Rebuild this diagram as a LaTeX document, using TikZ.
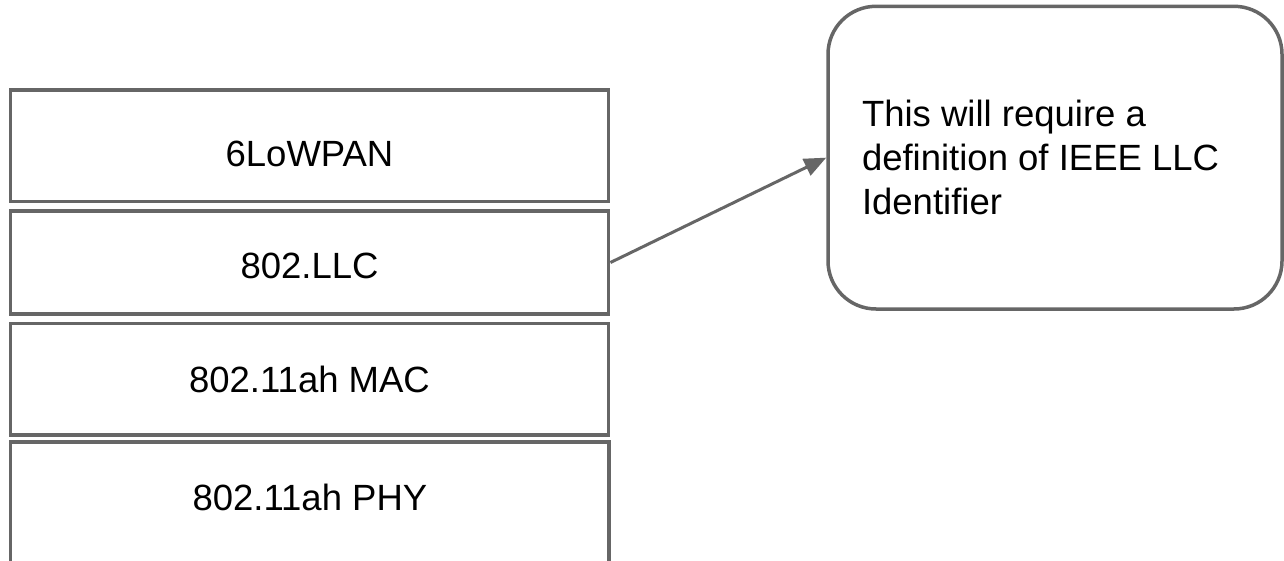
\documentclass[tikz,border=0pt]{standalone}
\usepackage{fontspec}
\setmainfont{Liberation Sans}
\usetikzlibrary{arrows.meta}
\hyphenpenalty=10000
\exhyphenpenalty=10000
\definecolor{edgegray}{HTML}{666666}
\tikzset{
  layer/.style={draw=edgegray, line width=1.75pt, rectangle, minimum width=299.2pt,
    inner sep=0pt, font=\fontsize{18.25pt}{22.15pt}\selectfont},
  callout/.style={draw=edgegray, line width=1.75pt, rectangle, rounded corners=24pt,
    minimum width=227pt, minimum height=151.35pt, text width=193pt, align=flush left,
    font=\fontsize{18.25pt}{22.15pt}\selectfont},
  link/.style={draw=edgegray, line width=1.5pt, -{Triangle[length=11pt,width=9pt]}}
}
\begin{document}
\begin{tikzpicture}[x=0.5pt, y=-0.5pt]
\useasboundingbox (0,0) rectangle (1284,561);
\clip (0,0) rectangle (1284,561);
\fill[white] (0,0) rectangle (1284,561);
\node[layer, minimum height=55.75pt, text height=21.3pt] (lowpan) at (309.5,145.75) {6LoWPAN};
\node[layer, minimum height=51.5pt, text height=16.3pt] (llc) at (309.5,262.5) {802.LLC};
\node[layer, minimum height=55.85pt] (mac) at (309.5,379.2) {802.11ah MAC};
\node[layer, minimum height=79pt, text depth=24pt] (phy) at (309.9,521) {802.11ah PHY};
\node[callout] (note) at (1055,157.65) {This will require a definition of IEEE LLC Identifier};
\draw[link] (llc.east) -- (note.west);
\end{tikzpicture}
\end{document}
